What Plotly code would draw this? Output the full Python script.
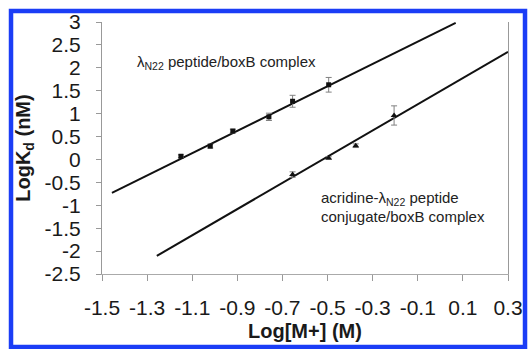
import plotly.graph_objects as go

# Data
peptide_x = [-1.15, -1.02, -0.92, -0.76, -0.655, -0.495]
peptide_y = [0.07, 0.29, 0.62, 0.93, 1.27, 1.63]
peptide_err = [0.03, 0.04, 0.04, 0.08, 0.13, 0.16]

acridine_x = [-0.655, -0.495, -0.375, -0.205]
acridine_y = [-0.33, 0.03, 0.30, 0.96]
acridine_err = [0.06, 0.03, 0.04, 0.21]

fit_peptide_x = [-1.456, 0.068]
fit_peptide_y = [-0.73, 2.98]
fit_acridine_x = [-1.257, 0.3]
fit_acridine_y = [-2.105, 2.35]

x_ticks = [-1.5, -1.3, -1.1, -0.9, -0.7, -0.5, -0.3, -0.1, 0.1, 0.3]
y_ticks = [-2.5, -2, -1.5, -1, -0.5, 0, 0.5, 1, 1.5, 2, 2.5, 3]

FONT = "Liberation Sans, Arial, sans-serif"
TXT = "#1a1a1a"

fig = go.Figure()
fig.add_trace(go.Scatter(x=fit_peptide_x, y=fit_peptide_y, mode="lines",
                         line=dict(color="#111111", width=2), showlegend=False))
fig.add_trace(go.Scatter(x=fit_acridine_x, y=fit_acridine_y, mode="lines",
                         line=dict(color="#111111", width=2), showlegend=False))
fig.add_trace(go.Scatter(x=peptide_x, y=peptide_y, mode="markers",
                         marker=dict(symbol="square", size=5, color="#111111"),
                         error_y=dict(type="data", array=peptide_err, color="#808080",
                                      thickness=1, width=3),
                         showlegend=False))
fig.add_trace(go.Scatter(x=acridine_x, y=acridine_y, mode="markers",
                         marker=dict(symbol="triangle-up", size=6, color="#111111"),
                         error_y=dict(type="data", array=acridine_err, color="#808080",
                                      thickness=1, width=3),
                         showlegend=False))

fig.update_layout(
    width=529, height=349,
    margin=dict(l=102, r=21, t=22, b=75),
    paper_bgcolor="white", plot_bgcolor="white",
    font=dict(family=FONT, color=TXT),
    xaxis=dict(range=[-1.5, 0.3], tickvals=x_ticks, ticktext=[f"{v:g}" for v in x_ticks],
               showgrid=False, zeroline=False, showline=True, linecolor="#aaaaaa",
               linewidth=1, ticks="outside", ticklen=6, tickcolor="#999999",
               automargin=False, ticklabelstandoff=9,
               tickfont=dict(size=21, family=FONT, color=TXT),
               title=dict(text="<b>Log[M+] (M)</b>", font=dict(size=20, family=FONT, color=TXT),
                          standoff=5)),
    yaxis=dict(range=[-2.5, 3], tickvals=y_ticks, ticktext=[f"{v:g}" for v in y_ticks],
               showgrid=False, zeroline=False, showline=True, linecolor="#999999",
               linewidth=1, mirror=True, ticks="outside", ticklen=5, tickcolor="#999999",
               automargin=False, ticklabelstandoff=11,
               tickfont=dict(size=21, family=FONT, color=TXT),
               title=dict(text="<b>LogK<sub>d</sub> (nM)</b>", font=dict(size=20, family=FONT, color=TXT),
                          standoff=8)),
    shapes=[dict(type="rect", xref="paper", yref="paper", layer="above",
                 x0=-0.2241, x1=1.0419, y0=-0.2897, y1=1.0437,
                 line=dict(color="#1b3df6", width=4.5))],
    annotations=[
        dict(text="λ<sub>N22</sub> peptide/boxB complex", x=-1.353, y=2.106,
             xref="x", yref="y", xanchor="left", yanchor="middle", showarrow=False,
             font=dict(size=15, family=FONT, color="#222222")),
        dict(text="acridine-λ<sub>N22</sub> peptide",
             x=-0.538, y=-0.862, xref="x", yref="y", xanchor="left", yanchor="middle",
             showarrow=False, font=dict(size=15, family=FONT, color="#222222")),
        dict(text="conjugate/boxB complex",
             x=-0.538, y=-1.255, xref="x", yref="y", xanchor="left", yanchor="middle",
             showarrow=False, font=dict(size=15, family=FONT, color="#222222")),
    ],
)

fig.write_html("out.html", config={"displayModeBar": False},
               post_script="document.body.style.margin='0';")
